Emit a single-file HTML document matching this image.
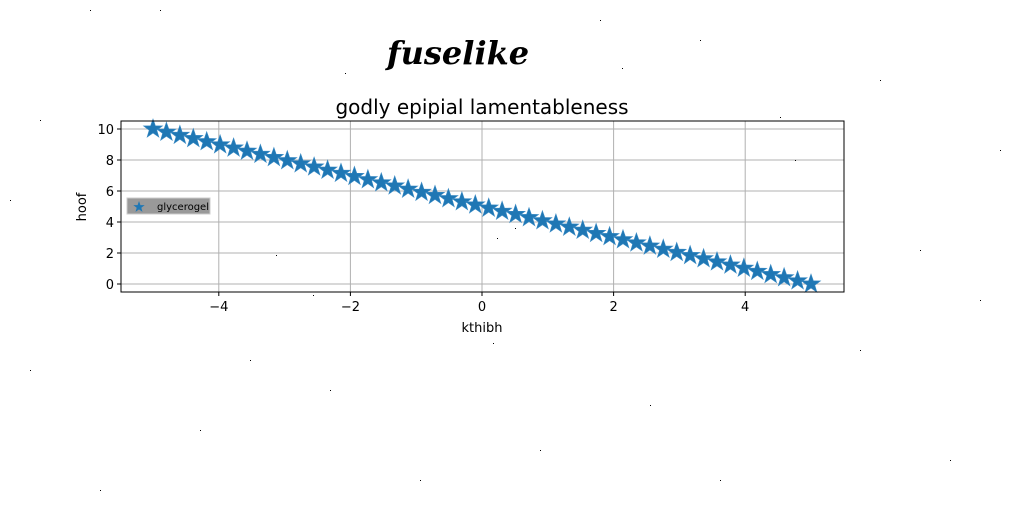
<!DOCTYPE html>
<html><head><meta charset="utf-8"><style>
html,body{margin:0;padding:0;background:#fff;}
svg{display:block;font-family:"DejaVu Sans","Liberation Sans",sans-serif;}
</style></head><body>
<svg id="chart" width="1024" height="512" viewBox="0 0 1024 512">
<text x="458" y="64" font-size="32" font-style="italic" font-weight="bold" font-family="'Comic Sans MS','DejaVu Serif',cursive" text-anchor="middle">fuselike</text>
<text x="482" y="114" font-size="20" text-anchor="middle">godly epipial lamentableness</text>
<g id="grid"></g>
<g id="ticks"></g>
<g id="marks"></g>
<rect x="121" y="121" width="723" height="171" fill="none" stroke="#000" stroke-width="1"/>
<text x="482" y="332" font-size="13" text-anchor="middle">kthibh</text>
<text transform="translate(86,207) rotate(-90)" font-size="13" text-anchor="middle">hoof</text>
<g>
<rect x="127" y="198" width="83" height="16" fill="#999" stroke="#ccc"/>
<polygon id="legstar" fill="#1f77b4"/>
<text x="157" y="210" font-size="10" fill="#000">glycerogel</text>
</g>
<g id="noise"></g>
</svg>
<script>
const xTicks=[-4,-2,0,2,4];
const yTicks=[0,2,4,6,8,10];
const xTickLabels=["−4","−2","0","2","4"];
const yTickLabels=["0","2","4","6","8","10"];
const N=50;
const xValues=[];const yValues=[];
for(let i=0;i<N;i++){const x=-5+10*i/(N-1);xValues.push(x);yValues.push(5-x);}
const NS="http://www.w3.org/2000/svg";
const sx=v=>482+v*65.8;
const sy=v=>284-v*15.5;
function mk(tag,attrs,parent){const e=document.createElementNS(NS,tag);for(const k in attrs)e.setAttribute(k,attrs[k]);parent.appendChild(e);return e;}
const grid=document.getElementById('grid'),ticks=document.getElementById('ticks'),marks=document.getElementById('marks');
xTicks.forEach((t,i)=>{
 const l=mk('line',{x1:sx(t),x2:sx(t),y1:121,y2:292,stroke:'#b0b0b0','stroke-width':1},grid);
 
 
 const tk=mk('line',{x1:sx(t),x2:sx(t),y1:292,y2:296,stroke:'#000'},ticks);
 
 
 const tx=mk('text',{x:sx(t),y:311,'font-size':13,'text-anchor':'middle'},ticks);tx.textContent=xTickLabels[i];
 
 
});
yTicks.forEach((t,i)=>{
 const l=mk('line',{x1:121,x2:844,y1:sy(t),y2:sy(t),stroke:'#b0b0b0','stroke-width':1},grid);
 
 
 const tk=mk('line',{x1:117,x2:121,y1:sy(t),y2:sy(t),stroke:'#000'},ticks);
 
 
 const tx=mk('text',{x:114,y:sy(t)+5,'font-size':13,'text-anchor':'end'},ticks);tx.textContent=yTickLabels[i];
 
 
});
function star(cx,cy,R){const r=R*0.4;let p=[];for(let k=0;k<10;k++){const a=-Math.PI/2+k*Math.PI/5;const rr=k%2?r:R;p.push((cx+rr*Math.cos(a)).toFixed(1)+','+(cy+rr*Math.sin(a)).toFixed(1));}return p.join(' ');}
xValues.forEach((x,i)=>{
 const s=mk('polygon',{points:star(sx(x),sy(yValues[i]),10),fill:'#1f77b4',stroke:'#3a8ac4','stroke-width':0.6},marks);
 
 
});
document.getElementById('legstar').setAttribute('points',star(139,207,6));
const noise=document.getElementById('noise');
const dots=[[90,10],[160,10],[345,73],[622,68],[780,117],[795,160],[515,228],[497,238],[276,255],[313,295],[493,343],[650,405],[30,370],[980,300],[950,460],[420,480],[720,480],[200,430],[860,350],[600,20],[700,40],[10,200],[1000,150],[880,80],[330,390],[540,450],[100,490],[250,360],[920,250],[40,120]];
dots.forEach(d=>{const r=mk('rect',{x:d[0],y:d[1],width:1,height:1,fill:'#000'},noise);
 
 
});
</script>
</body></html>
